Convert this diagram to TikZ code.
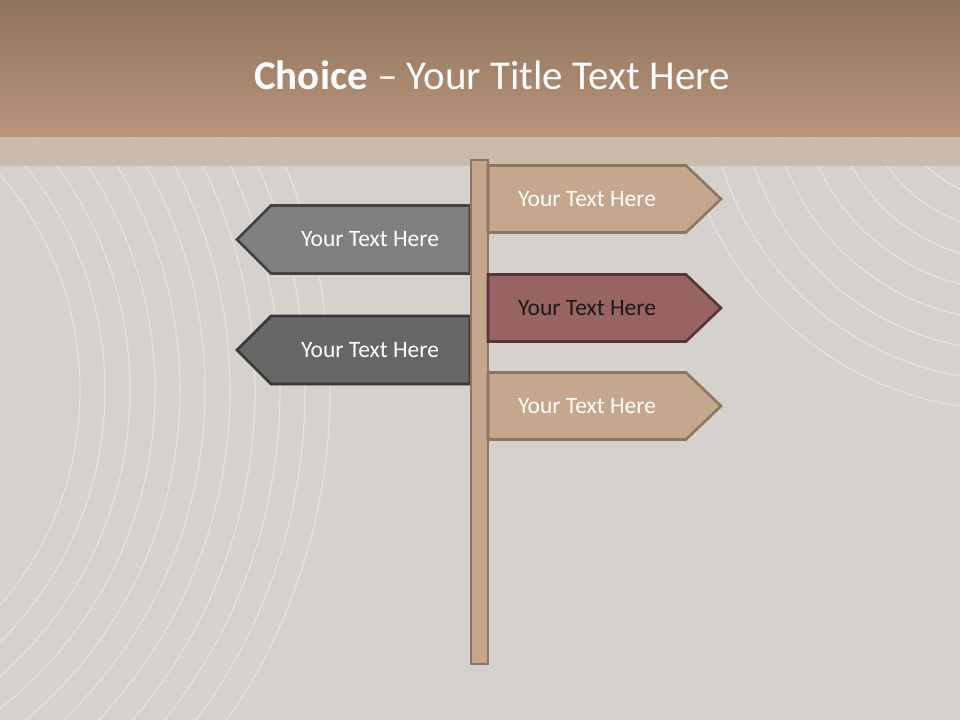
\documentclass[tikz,border=0pt]{standalone}
\usepackage{fontspec}
\setmainfont{Carlito}
\usetikzlibrary{calc}
\definecolor{chbrowntop}{HTML}{8E725E}
\definecolor{chbrownbot}{HTML}{B99579}
\definecolor{chband}{HTML}{CAB7A9}
\definecolor{chback}{HTML}{D5D2CD}
\definecolor{chtan}{HTML}{C4A78D}
\definecolor{chtanline}{HTML}{8E7662}
\definecolor{chred}{HTML}{986463}
\definecolor{chredline}{HTML}{553535}
\definecolor{chgrey}{HTML}{808080}
\definecolor{chgreyline}{HTML}{424242}
\definecolor{chdark}{HTML}{666666}
\definecolor{chdarkline}{HTML}{383838}
\definecolor{chink}{HTML}{1A1A1A}
\tikzset{
  sgn/.style={line width=2.6pt, line join=miter},
  tansgn/.style={sgn, draw=chtanline, fill=chtan},
  redsgn/.style={sgn, draw=chredline, fill=chred},
  greysgn/.style={sgn, draw=chgreyline, fill=chgrey},
  darksgn/.style={sgn, draw=chdarkline, fill=chdark},
  pole/.style={draw=chtanline, fill=chtan, line width=1.8pt},
  lbl/.style={font=\fontsize{23.5}{26}\selectfont, inner sep=0pt},
  swirl/.style={draw=white, opacity=0.35, line width=1.2pt},
}
\begin{document}
\begin{tikzpicture}[x=1pt, y=1pt]
    \useasboundingbox (0,0) rectangle (960,720);
    \fill[chback] (0,0) rectangle (960,720);
    % faint swirls of the backdrop
    \begin{scope}
      \clip (0,0) rectangle (960,583);
      \foreach \r in {330,355,...,580} \draw[swirl] (-250,330) circle (\r);
      \foreach \r in {120,150,...,330} \draw[swirl] (1010,640) circle (\r);
    \end{scope}
    \shade[top color=chbrowntop, bottom color=chbrownbot] (0,583) rectangle (960,720);
    \fill[chband, opacity=0.85] (0,554) rectangle (960,583);
    \node[font=\fontsize{41}{46}\selectfont, text=white] (title) at (492,645) {\textbf{Choice} -- Your Title Text Here};
    % left signs
    \foreach \n/\y/\st in {l1/480.5/greysgn, l2/370/darksgn} {
      \draw[\st] (470,\y+34) -- (271,\y+34) -- (237,\y) -- (271,\y-34) -- (470,\y-34) -- cycle;
      \node[lbl, text=white] (\n) at (370,\y) {Your Text Here};
    }
    % pole
    \draw[pole] (471,56) rectangle (488,560);
    % right signs
    \foreach \n/\y/\st/\tc in {r1/521/tansgn/white, r2/412/redsgn/chink, r3/314/tansgn/white} {
      \draw[\st] (488,\y+33.5) -- (686,\y+33.5) -- (721,\y) -- (686,\y-33.5) -- (488,\y-33.5) -- cycle;
      \node[lbl, text=\tc] (\n) at (587,\y) {Your Text Here};
    }
  \end{tikzpicture}
\end{document}
